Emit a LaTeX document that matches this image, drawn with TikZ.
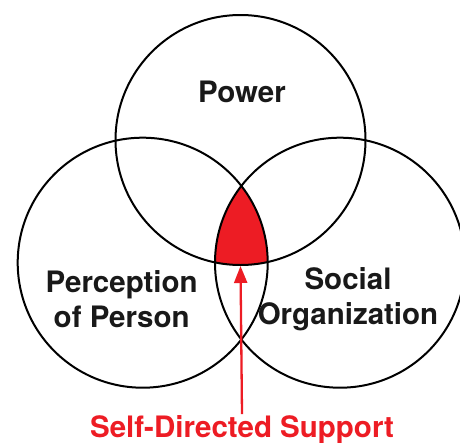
\documentclass[tikz,border=0pt]{standalone}
\usepackage{fontspec}
\setmainfont{TeX Gyre Heros}
\usetikzlibrary{arrows.meta}
\definecolor{sdsred}{RGB}{237,28,36}

\begin{document}
\begin{tikzpicture}[x=1pt,y=-1pt,
  venn/.style={draw=black,line width=2pt,circle,minimum size=250pt,inner sep=0pt},
  lab/.style={font=\fontsize{29.5}{35}\selectfont\bfseries,align=center,inner sep=1pt,text=black!90}]
\useasboundingbox (0,0) rectangle (460,442);
\begin{scope}
\clip (240.5,140) circle (125);
\clip (142.7,262.7) circle (125);
\fill [sdsred] (340,262.7) circle (125);
\end{scope}
\node [venn] (power) at (240.5,140) {};
\node [venn] (person) at (142.7,262.7) {};
\node [venn] (social) at (340,262.7) {};
\node [lab] (powerlab) at (242,91.5) {Power};
\node [lab] (personlab) at (121.7,299.5) {Perception\\of Person};
\node [lab] (sociallab) at (348,299.5) {Social\\Organization};
\node [lab,text=sdsred,anchor=base] (support) at (242,437.3) {Self-Directed Support};
\draw [sdsred,line width=2.3pt,-{Triangle[width=13pt,length=17pt]}] (support.north) -- (power.south);
\end{tikzpicture}
\end{document}
